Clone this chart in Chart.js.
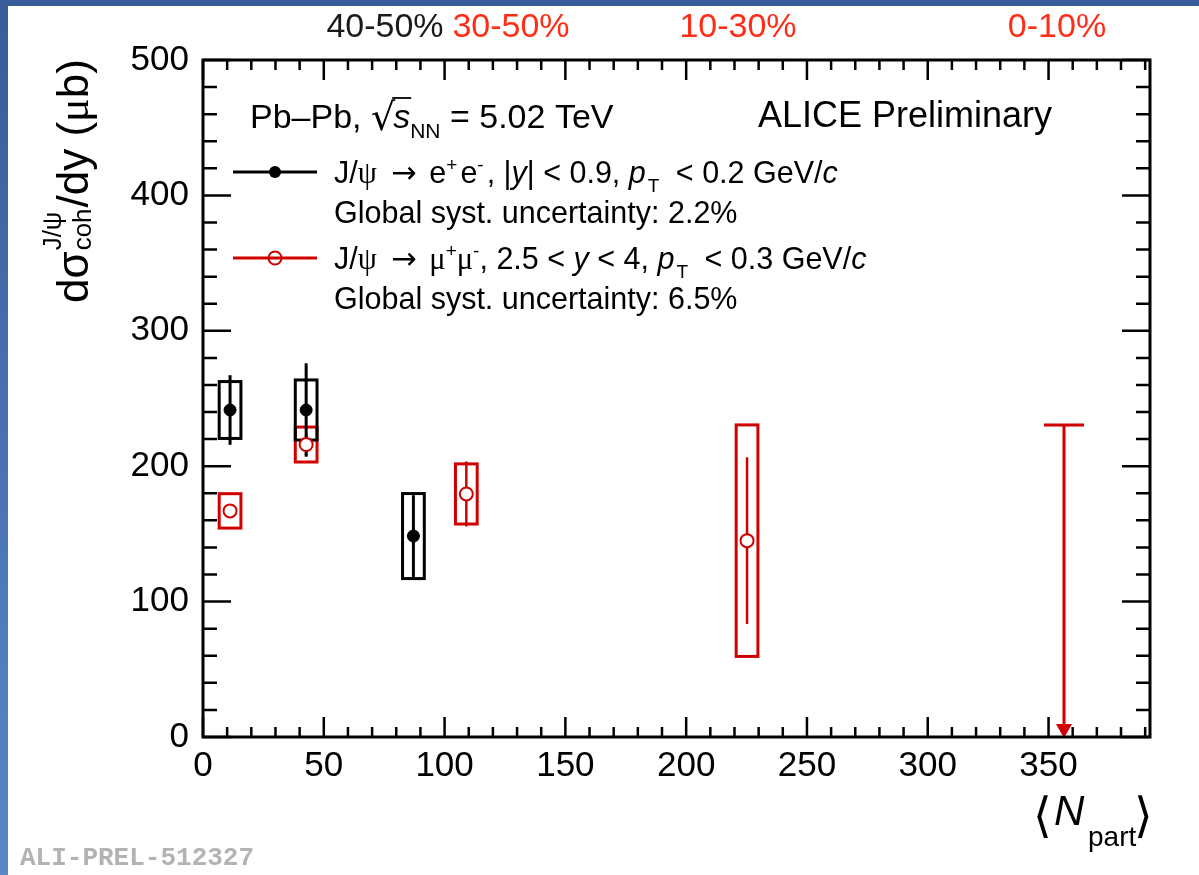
<!DOCTYPE html>
<html>
<head>
<meta charset="utf-8">
<title>Coherent J/psi cross section vs Npart</title>
<script src="https://cdn.jsdelivr.net/npm/chart.js@4.4.0/dist/chart.umd.min.js"></script>
<style>
  html, body { margin: 0; padding: 0; background: #fff; }
  #wrap { width: 1199px; height: 875px; }
</style>
</head>
<body>
<div id="wrap"><canvas id="xsecChart" width="1199" height="875"></canvas></div>
<script>
// J/psi -> e+e-, |y| < 0.9
const eeNpart = [11.2, 42.7, 87.1];
const eeSigma = [241.5, 241.5, 148.4];
const eeStat = [25.7, 34.5, 30.2];
const eeSyst = [21.0, 22.2, 31.4];

// J/psi -> mu+mu-, 2.5 < y < 4
const mmNpart = [11.2, 42.7, 109.0, 225.2];
const mmSigma = [167.0, 216.0, 179.5, 145.0];
const mmStat = [5.0, 8.0, 24.0, 61.6];
const mmSyst = [12.7, 12.9, 22.2, 85.5];

// upper limit for the most central class (mu+mu-)
const ulNpart = [356.4];
const ulValue = [230.4];

// axis ticks
const xTicks = [0, 50, 100, 150, 200, 250, 300, 350];
const yTicks = [0, 100, 200, 300, 400, 500];

// centrality classes written above the frame
const centLabels = ['40-50%', '30-50%', '10-30%', '0-10%'];

const FONT = '"Liberation Sans", Arial, Helvetica, sans-serif';
const SERIF = '"Liberation Serif", "DejaVu Serif", serif';
const RED = '#d10000';
const ORANGE = '#ff2c16';
const BOX_HALF = 4.5;   // half width of the syst. boxes, in Npart units

// draws text runs one after another; sup/sub runs are smaller and shifted
function rich(ctx, x, y, parts, size) {
    parts.forEach(p => {
        const s = typeof p === 'string' ? { t: p } : p;
        if (s.gap) { x += s.gap; return; }
        const fs = (s.sup || s.sub) ? Math.round(size * 0.62) : size;
        ctx.font = (s.it ? 'italic ' : '') + fs + 'px ' + (s.f || FONT);
        const dy = s.sup ? -size * 0.38 : s.sub ? size * 0.3 : 0;
        ctx.fillText(s.t, x, y + dy);
        x += ctx.measureText(s.t).width;
    });
    return x;
}

const framePlugin = {
    id: 'frame',
    beforeDraw(chart) {
        const ctx = chart.ctx;
        ctx.save();
        ctx.fillStyle = '#fff';
        ctx.fillRect(0, 0, chart.width, chart.height);
        const g = ctx.createLinearGradient(0, 0, 0, chart.height);
        g.addColorStop(0, '#385c9a');
        g.addColorStop(1, '#5b87c6');
        ctx.fillStyle = g;
        ctx.fillRect(0, 0, 8, chart.height);
        ctx.fillStyle = '#395d9b';
        ctx.fillRect(0, 0, chart.width, 6);
        ctx.restore();
    },
    beforeDatasetsDraw(chart) {
        const ctx = chart.ctx;
        const xs = chart.scales.x, ys = chart.scales.y;
        ctx.save();

        // systematic boxes
        const boxes = (npart, sigma, syst, color) => {
            ctx.strokeStyle = color;
            ctx.lineWidth = 3;
            npart.forEach((n, i) => {
                const x0 = xs.getPixelForValue(n - BOX_HALF), x1 = xs.getPixelForValue(n + BOX_HALF);
                const y0 = ys.getPixelForValue(sigma[i] + syst[i]), y1 = ys.getPixelForValue(sigma[i] - syst[i]);
                ctx.strokeRect(x0, y0, x1 - x0, y1 - y0);
            });
        };
        // statistical bars
        const bars = (npart, sigma, stat, color, w) => {
            ctx.strokeStyle = color;
            ctx.lineWidth = w;
            npart.forEach((n, i) => {
                const x = xs.getPixelForValue(n);
                ctx.beginPath();
                ctx.moveTo(x, ys.getPixelForValue(sigma[i] + stat[i]));
                ctx.lineTo(x, ys.getPixelForValue(sigma[i] - stat[i]));
                ctx.stroke();
            });
        };
        boxes(mmNpart, mmSigma, mmSyst, RED);
        bars(mmNpart, mmSigma, mmStat, RED, 2.5);
        boxes(eeNpart, eeSigma, eeSyst, '#000');
        bars(eeNpart, eeSigma, eeStat, '#000', 3);

        // upper limit with arrow down to zero
        ctx.strokeStyle = RED;
        ctx.fillStyle = RED;
        ctx.lineWidth = 3;
        ulNpart.forEach((n, i) => {
            const x = xs.getPixelForValue(n);
            const yTop = ys.getPixelForValue(ulValue[i]);
            const yBot = ys.getPixelForValue(0);
            ctx.beginPath();
            ctx.moveTo(xs.getPixelForValue(n - 8.3), yTop);
            ctx.lineTo(xs.getPixelForValue(n + 8.3), yTop);
            ctx.moveTo(x, yTop);
            ctx.lineTo(x, yBot - 10);
            ctx.stroke();
            ctx.beginPath();
            ctx.moveTo(x - 8, yBot - 13);
            ctx.lineTo(x + 8, yBot - 13);
            ctx.lineTo(x, yBot + 1);
            ctx.closePath();
            ctx.fill();
        });
        ctx.restore();
    },
    afterDraw(chart) {
        const ctx = chart.ctx;
        const a = chart.chartArea;
        const xs = chart.scales.x, ys = chart.scales.y;
        ctx.save();

        // frame
        ctx.strokeStyle = '#000';
        ctx.lineWidth = 3;
        ctx.strokeRect(a.left, a.top, a.right - a.left, a.bottom - a.top);

        // inward ticks on all four sides
        ctx.lineWidth = 2.5;
        ctx.beginPath();
        for (let v = 0; v <= xs.max; v += 10) {
            const x = xs.getPixelForValue(v);
            const len = v % 50 === 0 ? 20 : 10;
            ctx.moveTo(x, a.bottom); ctx.lineTo(x, a.bottom - len);
            ctx.moveTo(x, a.top); ctx.lineTo(x, a.top + len);
        }
        for (let v = 0; v <= ys.max; v += 20) {
            const y = ys.getPixelForValue(v);
            const len = v % 100 === 0 ? 28 : 14;
            ctx.moveTo(a.left, y); ctx.lineTo(a.left + len, y);
            ctx.moveTo(a.right, y); ctx.lineTo(a.right - len, y);
        }
        ctx.stroke();

        // centrality classes on top
        ctx.font = '34px ' + FONT;
        ctx.textAlign = 'center';
        ctx.textBaseline = 'alphabetic';
        const centX = [385, 511, 738, 1057];
        centLabels.forEach((t, i) => {
            ctx.fillStyle = i === 0 ? '#1a1a1a' : ORANGE;
            ctx.fillText(t, centX[i], 37);
        });

        ctx.textAlign = 'left';
        ctx.fillStyle = '#000';

        // system label with sqrt
        let x = rich(ctx, 250, 128, ['Pb\u2013Pb, '], 34);
        ctx.font = '38px "DejaVu Sans", sans-serif';
        ctx.fillText('\u221A', x, 130);
        x += ctx.measureText('\u221A').width - 2;
        const sx = x;
        x = rich(ctx, x, 128, [{ t: 's', it: true }], 34);
        ctx.lineWidth = 1.8;
        ctx.beginPath();
        ctx.moveTo(sx - 1, 98);
        ctx.lineTo(x + 1, 98);
        ctx.stroke();
        rich(ctx, x, 128, [{ t: 'NN', sub: true }, ' = 5.02 TeV'], 34);

        ctx.font = '36px ' + FONT;
        ctx.fillText('ALICE Preliminary', 758, 127);

        // legend
        ctx.lineWidth = 3;
        ctx.strokeStyle = '#000';
        ctx.beginPath(); ctx.moveTo(233, 172); ctx.lineTo(317, 172); ctx.stroke();
        ctx.beginPath(); ctx.arc(275, 172, 6, 0, Math.PI * 2); ctx.fill();
        ctx.strokeStyle = RED;
        ctx.beginPath(); ctx.arc(275, 258, 6.5, 0, Math.PI * 2);
        ctx.fillStyle = '#fff'; ctx.fill();
        ctx.lineWidth = 2; ctx.stroke();
        ctx.lineWidth = 3;
        ctx.beginPath(); ctx.moveTo(233, 258); ctx.lineTo(317, 258); ctx.stroke();

        ctx.fillStyle = '#000';
        const arrow = { t: '\u2192', f: '"DejaVu Sans", sans-serif' };
        rich(ctx, 334, 183, ['J/', { t: '\u03C8', f: SERIF }, { gap: 6 }, ' ', arrow, ' ', { gap: 4 }, 'e', { t: '+', sup: true },
            { gap: 3 }, 'e', { t: '-', sup: true }, { gap: 3 },
            ', |', { t: 'y', it: true }, '| < 0.9, ', { t: 'p', it: true }, { gap: 2 }, { t: 'T', sub: true }, { gap: 8 },
            ' < 0.2 GeV/', { t: 'c', it: true }], 30.5);
        rich(ctx, 334, 223, ['Global syst. uncertainty: 2.2%'], 30.5);
        rich(ctx, 334, 269, ['J/', { t: '\u03C8', f: SERIF }, { gap: 6 }, ' ', arrow, ' ', { gap: 4 }, { t: '\u03BC', f: SERIF }, { t: '+', sup: true },
            { t: '\u03BC', f: SERIF }, { t: '-', sup: true },
            ', 2.5 < ', { t: 'y', it: true }, ' < 4, ', { t: 'p', it: true }, { gap: 2 }, { t: 'T', sub: true }, { gap: 8 },
            ' < 0.3 GeV/', { t: 'c', it: true }], 30.5);
        rich(ctx, 334, 309, ['Global syst. uncertainty: 6.5%'], 30.5);

        // y axis title
        ctx.save();
        ctx.translate(88, 303);
        ctx.rotate(-Math.PI / 2);
        ctx.font = '44px ' + FONT;
        ctx.fillText('d\u03C3', 0, 0);
        let tx = ctx.measureText('d\u03C3').width + 1;
        ctx.font = '26px ' + FONT;
        ctx.fillText('J/\u03C8', tx, -27);
        ctx.fillText('coh', tx, 3);
        tx += Math.max(ctx.measureText('J/\u03C8').width, ctx.measureText('coh').width) + 1;
        rich(ctx, tx, 0, ['/dy (', { t: '\u03BC', f: SERIF }, 'b)'], 44);
        ctx.restore();

        // x axis title <N_part>
        ctx.font = '48px "DejaVu Sans", sans-serif';
        ctx.fillText('\u27E8', 1033, 832);
        ctx.font = 'italic 42px ' + FONT;
        ctx.fillText('N', 1054, 825);
        ctx.font = '28px ' + FONT;
        ctx.fillText('part', 1088, 846);
        ctx.font = '48px "DejaVu Sans", sans-serif';
        ctx.fillText('\u27E9', 1134, 832);

        // figure id
        ctx.font = 'bold 26px "Liberation Mono", "Courier New", monospace';
        ctx.fillStyle = '#b3b3b3';
        ctx.fillText('ALI-PREL-512327', 20, 865);

        ctx.restore();
    }
};

const ctx = document.getElementById('xsecChart').getContext('2d');

new Chart(ctx, {
    type: 'scatter',
    data: {
        datasets: [{
            label: 'J/psi -> mu+mu-',
            data: mmNpart.map((n, i) => ({ x: n, y: mmSigma[i] })),
            pointRadius: 6.5,
            pointBackgroundColor: '#fff',
            pointBorderColor: RED,
            pointBorderWidth: 2
        }, {
            label: 'J/psi -> e+e-',
            data: eeNpart.map((n, i) => ({ x: n, y: eeSigma[i] })),
            pointRadius: 6,
            pointBackgroundColor: '#000',
            pointBorderColor: '#000',
            pointBorderWidth: 1
        }]
    },
    options: {
        responsive: false,
        animation: false,
        devicePixelRatio: 1,
        layout: { padding: { top: 60, right: 49, left: 0, bottom: 0 } },
        scales: {
            x: {
                type: 'linear',
                min: 0,
                max: 392,
                afterBuildTicks: s => { s.ticks = xTicks.map(v => ({ value: v })); },
                afterFit: s => { s.height = 138; },
                ticks: {
                    color: '#000',
                    padding: 8,
                    font: { family: FONT, size: 35 }
                },
                grid: { display: false, drawTicks: false },
                border: { display: false }
            },
            y: {
                type: 'linear',
                min: 0,
                max: 500,
                afterBuildTicks: s => { s.ticks = yTicks.map(v => ({ value: v })); },
                afterFit: s => { s.width = 203; },
                ticks: {
                    color: '#000',
                    padding: 14,
                    font: { family: FONT, size: 35 }
                },
                grid: { display: false, drawTicks: false },
                border: { display: false }
            }
        },
        plugins: {
            legend: { display: false },
            title: { display: false },
            tooltip: { enabled: false }
        }
    },
    plugins: [framePlugin]
});
</script>
</body>
</html>
